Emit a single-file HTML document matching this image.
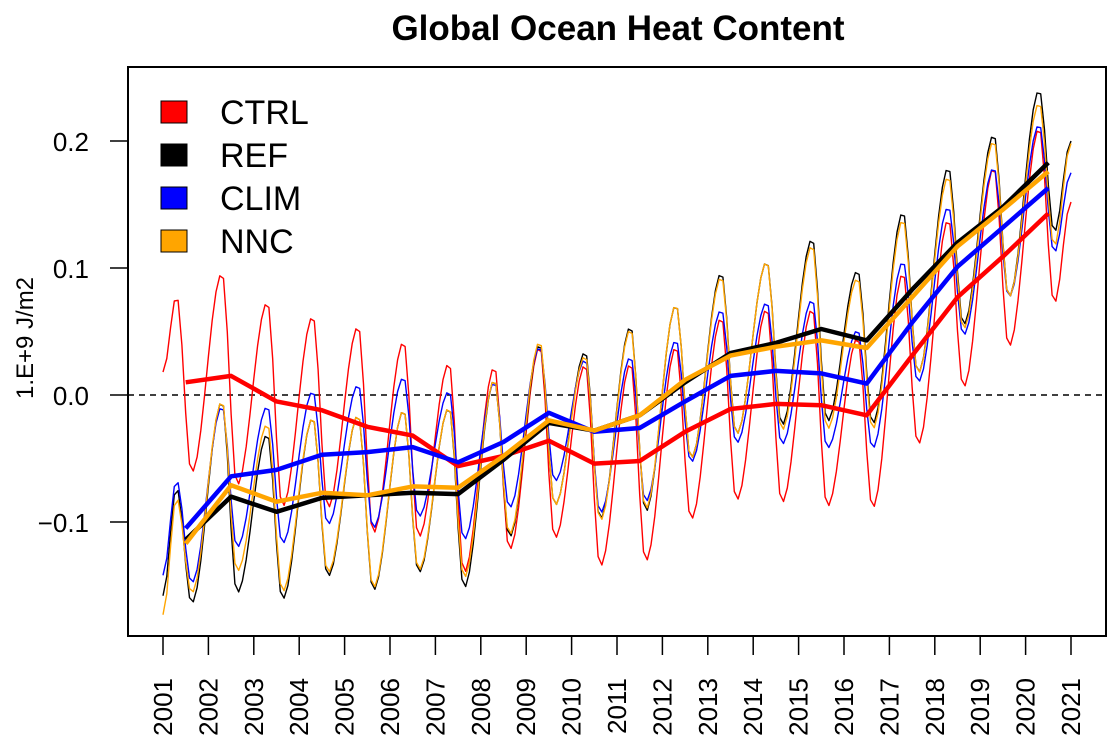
<!DOCTYPE html>
<html><head><meta charset="utf-8"><style>
html,body{margin:0;padding:0;background:#fff;}
svg{display:block;font-family:"Liberation Sans",sans-serif;}
</style></head><body>
<svg id="chart" width="1118" height="748" viewBox="0 0 1118 748">
<text x="618" y="40" text-anchor="middle" font-size="35" font-weight="bold">Global Ocean Heat Content</text>
<rect x="128" y="67" width="978" height="569" fill="none" stroke="#000" stroke-width="2"/>
<text transform="translate(33,338) rotate(-90)" text-anchor="middle" font-size="24">1.E+9 J/m2</text>
<g id="axes"></g>
<g id="series"></g>
<g>
 <g><rect x="161" y="101" width="26" height="22" fill="#ff0000" stroke="#000"/><text x="220" y="124" font-size="34">CTRL</text></g>
 <g><rect x="161" y="144" width="26" height="22" fill="#000" stroke="#000"/><text x="220" y="167" font-size="34">REF</text></g>
 <g><rect x="161" y="187" width="26" height="22" fill="#0000ff" stroke="#000"/><text x="220" y="210" font-size="34">CLIM</text></g>
 <g><rect x="161" y="230" width="26" height="22" fill="#ffa500" stroke="#000"/><text x="220" y="253" font-size="34">NNC</text></g>
</g>
</svg>
<script>
const years = [2001,2002,2003,2004,2005,2006,2007,2008,2009,2010,2011,2012,2013,2014,2015,2016,2017,2018,2019,2020,2021];
const yTicks = [-0.1,0.0,0.1,0.2];
const yTickLabels = ["\u22120.1","0.0","0.1","0.2"];
// annual means (plotted at mid-year)
const ctrlAnnual = [0.010,0.015,-0.005,-0.012,-0.025,-0.032,-0.056,-0.048,-0.036,-0.054,-0.052,-0.029,-0.011,-0.007,-0.008,-0.016,0.031,0.077,0.109,0.143];
const refAnnual  = [-0.114,-0.080,-0.092,-0.081,-0.079,-0.077,-0.078,-0.051,-0.022,-0.028,-0.016,0.010,0.033,0.041,0.052,0.043,0.083,0.120,0.148,0.183];
const climAnnual = [-0.105,-0.064,-0.059,-0.047,-0.045,-0.041,-0.053,-0.037,-0.014,-0.029,-0.026,-0.005,0.015,0.019,0.017,0.009,0.057,0.101,0.132,0.163];
const nncAnnual  = [-0.117,-0.071,-0.084,-0.077,-0.079,-0.072,-0.073,-0.048,-0.020,-0.028,-0.016,0.012,0.031,0.038,0.043,0.037,0.077,0.117,0.146,0.176];
// monthly series: start value, yearly seasonal peaks & troughs, end value
const ctrlStart = 0.018, ctrlEnd = 0.152;
const ctrlPeaks   = [0.078,0.096,0.073,0.062,0.054,0.042,0.025,0.022,0.038,0.024,0.025,0.038,0.061,0.068,0.068,0.045,0.096,0.138,0.179,0.210];
const ctrlTroughs = [-0.061,-0.071,-0.088,-0.089,-0.109,-0.112,-0.140,-0.122,-0.113,-0.135,-0.131,-0.098,-0.083,-0.085,-0.088,-0.089,-0.039,0.006,0.038,0.072];
const refStart = -0.158, refEnd = 0.200;
const refPeaks    = [-0.073,-0.005,-0.031,-0.018,-0.016,-0.012,-0.010,0.012,0.040,0.034,0.054,0.071,0.096,0.105,0.123,0.098,0.144,0.179,0.205,0.240];
const refTroughs  = [-0.164,-0.156,-0.161,-0.143,-0.154,-0.140,-0.152,-0.112,-0.087,-0.098,-0.092,-0.050,-0.031,-0.024,-0.021,-0.023,0.017,0.055,0.077,0.128];
const climStart = -0.142, climEnd = 0.175;
const climPeaks   = [-0.067,-0.009,-0.009,0.003,0.008,0.014,0.003,0.010,0.038,0.028,0.030,0.043,0.067,0.073,0.075,0.051,0.105,0.148,0.179,0.213];
const climTroughs = [-0.148,-0.120,-0.117,-0.102,-0.105,-0.096,-0.114,-0.089,-0.068,-0.093,-0.084,-0.053,-0.038,-0.039,-0.042,-0.042,0.010,0.047,0.077,0.112];
const nncStart = -0.173, nncEnd = 0.198;
const nncPeaks    = [-0.081,-0.005,-0.023,-0.018,-0.016,-0.012,-0.010,0.012,0.042,0.031,0.052,0.071,0.093,0.105,0.118,0.092,0.138,0.172,0.200,0.230];
const nncTroughs  = [-0.156,-0.139,-0.155,-0.140,-0.152,-0.138,-0.144,-0.110,-0.087,-0.099,-0.090,-0.050,-0.031,-0.028,-0.027,-0.027,0.017,0.052,0.077,0.117];

const NS="http://www.w3.org/2000/svg";
const xS = t => 163 + (t-2001)*(1071-163)/20;
const yS = v => 395 - v*1270;
const axes = document.getElementById('axes');
const ser = document.getElementById('series');
function mk(tag, attrs, parent){const e=document.createElementNS(NS,tag);for(const k in attrs)e.setAttribute(k,attrs[k]);parent.appendChild(e);return e;}

yTicks.forEach((v,i)=>{
  const l=mk('line',{x1:110,x2:128,y1:yS(v),y2:yS(v),stroke:'#000','stroke-width':1.5},axes);
  
  
  const t=mk('text',{x:89,y:yS(v)+10,'text-anchor':'end','font-size':26},axes);
  t.textContent=yTickLabels[i];
  
  
});
years.forEach(y=>{
  const l=mk('line',{x1:xS(y),x2:xS(y),y1:636,y2:655,stroke:'#000','stroke-width':1.5},axes);
  
  
  const t=mk('text',{transform:`translate(${xS(y)+9},678) rotate(-90)`,'text-anchor':'end','font-size':26},axes);
  t.textContent=String(y);
  
  
});
const zl=mk('line',{x1:128,x2:1106,y1:yS(0),y2:yS(0),stroke:'#000','stroke-width':1.5,'stroke-dasharray':'6,5'},axes);



function monthly(start,peaks,troughs,end){
  const knots=[[2001,start]];
  for(let k=0;k<peaks.length;k++){knots.push([2001+k+0.3,peaks[k]]);knots.push([2001+k+0.63,troughs[k]]);}
  knots.push([2021,end]);
  const pts=[];
  for(let m=0;m<=240;m++){
    const t=2001+m/12;
    let j=0;while(j<knots.length-2&&knots[j+1][0]<t)j++;
    const [t0,v0]=knots[j],[t1,v1]=knots[j+1];
    const f=Math.min(1,Math.max(0,(t-t0)/(t1-t0)));
    const w=(1-Math.cos(Math.PI*f))/2;
    pts.push([t,v0+(v1-v0)*w]);
  }
  return pts;
}
function line(pts,color,w,name){
  const p=mk('polyline',{points:pts.map(([t,v])=>xS(t).toFixed(1)+','+yS(v).toFixed(1)).join(' '),fill:'none',stroke:color,'stroke-width':w,'stroke-linejoin':'round'},ser);
  
  
}
line(monthly(ctrlStart,ctrlPeaks,ctrlTroughs,ctrlEnd),'#ff0000',1.4,'ctrl-monthly-line');
line(monthly(refStart,refPeaks,refTroughs,refEnd),'#000000',1.4,'ref-monthly-line');
line(monthly(climStart,climPeaks,climTroughs,climEnd),'#0000ff',1.4,'clim-monthly-line');
line(monthly(nncStart,nncPeaks,nncTroughs,nncEnd),'#ffa500',1.4,'nnc-monthly-line');
const ann=a=>a.map((v,i)=>[2001.5+i,v]);
line(ann(ctrlAnnual),'#ff0000',4.5,'ctrl-annual-line');
line(ann(refAnnual),'#000000',4.5,'ref-annual-line');
line(ann(climAnnual),'#0000ff',4.5,'clim-annual-line');
line(ann(nncAnnual),'#ffa500',4.5,'nnc-annual-line');
</script>
</body></html>
